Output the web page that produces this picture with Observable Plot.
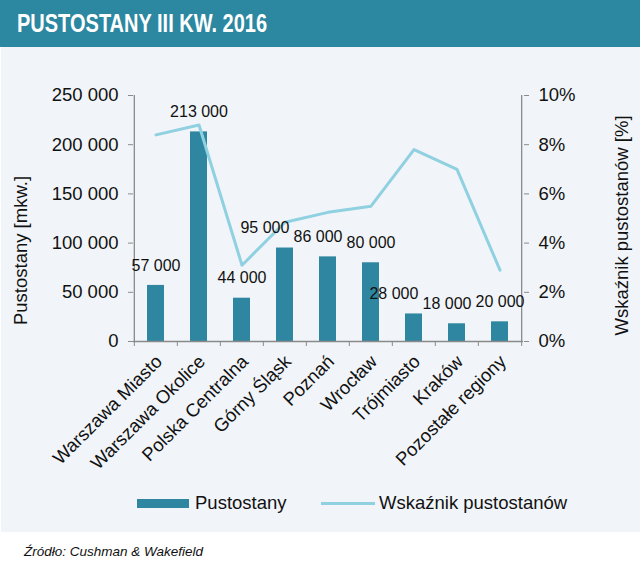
<!DOCTYPE html>
<html>
<head>
<meta charset="utf-8">
<script src="https://cdn.jsdelivr.net/npm/d3@7"></script>
<script src="https://cdn.jsdelivr.net/npm/@observablehq/plot@0.6"></script>
<style>
  html, body { margin: 0; padding: 0; background: #fff; }
  #root { position: relative; width: 640px; height: 581px; overflow: hidden; font-family: "Liberation Sans", Arial, sans-serif; }
  #title { position: absolute; left: 0; top: 0; width: 640px; height: 47px; background: #2c87a0; }
  #title span { position: absolute; left: 17px; top: 6px; color: #fff; font-family: "Liberation Sans", Arial, sans-serif; font-weight: bold; font-size: 25px; line-height: 34px; transform: scaleX(0.8); transform-origin: 0 0; white-space: nowrap; }
  #panel { position: absolute; left: 1px; top: 47px; width: 639px; height: 485px; background: #f1f5f9; }
  #chart { position: absolute; left: 0; top: 47px; }
  .leg { position: absolute; font-size: 18.5px; color: #111; line-height: 20px; }
  #source { position: absolute; left: 24px; top: 544px; font-size: 13.5px; font-style: italic; color: #111; }
</style>
</head>
<body>
<div id="root">
  <div id="title"><span>PUSTOSTANY III KW. 2016</span></div>
  <div id="panel"></div>
  <div id="chart"></div>
  <div id="legend"></div>
  <div id="source">Źródło: Cushman &amp; Wakefield</div>
</div>
<script>
const regions = ["Warszawa Miasto", "Warszawa Okolice", "Polska Centralna", "Górny Śląsk", "Poznań", "Wrocław", "Trójmiasto", "Kraków", "Pozostałe regiony"];
const vacancy = [57000, 213000, 44000, 95000, 86000, 80000, 28000, 18000, 20000];
const vacancyRate = [8.4, 8.8, 3.1, 4.85, 5.25, 5.5, 7.8, 7.0, 2.9];
const leftTicks = [0, 50000, 100000, 150000, 200000, 250000];
const rightTicks = [0, 2, 4, 6, 8, 10];
const leftTitle = "Pustostany [mkw.]";
const rightTitle = "Wskaźnik pustostanów [%]";
const seriesNames = ["Pustostany", "Wskaźnik pustostanów"];

const barColor = "#2e86a0";
const lineColor = "#8fd0e1";
const axisColor = "#8a8a8a";

const data = regions.map((r, i) => ({region: r, area: vacancy[i], rate: vacancyRate[i]}));
const yMax = 250000, rMax = 10;
const k = yMax / rMax;
const fmt = d => d3.format(",")(d).replace(/,/g, " ");

const W = 640, H = 440, mL = 133, mR = 117, mT = 48, mB = 146;
const step = (W - mL - mR) / regions.length;

const chart = Plot.plot({
  width: W, height: H,
  marginLeft: mL, marginRight: mR, marginTop: mT, marginBottom: mB,
  style: {background: "transparent", fontFamily: "Liberation Sans, Arial, sans-serif", color: "#111"},
  x: {type: "band", domain: regions, paddingInner: 0.6, paddingOuter: 0.3},
  y: {domain: [0, yMax]},
  marks: [
    Plot.barY(data, {x: "region", y: "area", fill: barColor}),
    Plot.ruleY([0], {stroke: axisColor, strokeWidth: 1.3}),
    Plot.ruleX([regions[0]], {dx: -step / 2, stroke: axisColor, strokeWidth: 1.3}),
    Plot.ruleX([regions[regions.length - 1]], {dx: step / 2, stroke: axisColor, strokeWidth: 1.3}),
    Plot.axisY(leftTicks, {anchor: "left", tickSize: 5, tickPadding: 10, tickFormat: fmt, fontSize: 18.5, stroke: axisColor, label: null}),
    Plot.axisY(rightTicks.map(d => d * k), {anchor: "right", tickSize: 5, tickPadding: 10, tickFormat: d => (d / k) + "%", fontSize: 18.5, stroke: axisColor, label: null}),
    Plot.axisX({tickSize: 5, tickFormat: () => "", dx: -step / 2, stroke: axisColor, label: null}),
    Plot.axisX([regions[regions.length - 1]], {tickSize: 5, tickFormat: () => "", dx: step / 2, stroke: axisColor, label: null}),
    Plot.axisX({tickSize: 0, tickPadding: 17, dx: 3, tickRotate: -45, fontSize: 18.5, label: null}),
    Plot.line(data, {x: "region", y: d => d.rate * k, stroke: lineColor, strokeWidth: 3}),
    Plot.text(data, {x: "region", y: "area", text: d => fmt(d.area), dy: -20, fontSize: 16, fill: "#111", className: "barlabel"}),
    Plot.text([leftTitle], {frameAnchor: "left", textAnchor: "middle", dx: -112, dy: 32, rotate: -90, fontSize: 18.5, fill: "#111"}),
    Plot.text([rightTitle], {frameAnchor: "right", textAnchor: "middle", dx: 99, dy: 7, rotate: -90, fontSize: 18.5, fill: "#111"})
  ]
});
document.getElementById("chart").appendChild(chart);

// nudge bar labels left when they would collide with the next one
const labels = Array.from(chart.querySelectorAll("g.barlabel text"));
for (let i = labels.length - 2; i >= 0; i--) {
  const a = labels[i].getBoundingClientRect();
  const b = labels[i + 1].getBoundingClientRect();
  const vOverlap = a.bottom > b.top && b.bottom > a.top;
  const gap = 4;
  if (vOverlap && a.right + gap > b.left) {
    const shift = a.right + gap - b.left;
    labels[i].setAttribute("dx", -shift);
  }
}

// legend
const legend = document.getElementById("legend");
legend.innerHTML = `
  <div style="position:absolute;left:137px;top:499px;width:52px;height:9px;background:${barColor}"></div>
  <div class="leg" style="left:195px;top:493px">${seriesNames[0]}</div>
  <div style="position:absolute;left:321px;top:502px;width:54px;height:3px;background:${lineColor}"></div>
  <div class="leg" style="left:379px;top:493px">${seriesNames[1]}</div>
`;
</script>
</body>
</html>
